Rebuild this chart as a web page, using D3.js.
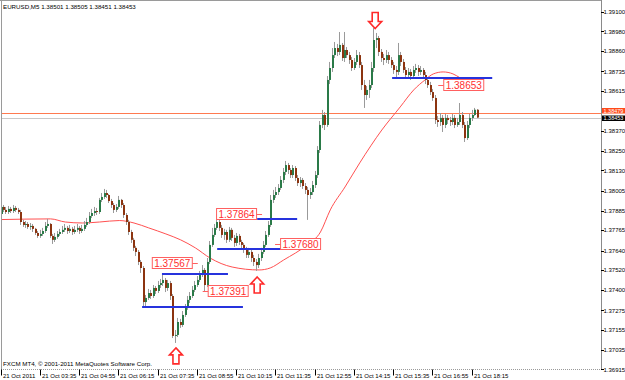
<!DOCTYPE html>
<html>
<head>
<meta charset="utf-8">
<script src="https://cdn.jsdelivr.net/npm/d3@7"></script>
<style>
  body { margin: 0; background: #fff; }
  svg { display: block; font-family: "Liberation Sans", Arial, sans-serif; }
</style>
</head>
<body>
<svg id="chart" width="625" height="380"></svg>
<script>
// EURUSD M5, 21 Oct 2011, bars from 02:15 to 18:25 (open of a bar = close of the previous one)
var firstOpen = 1.37864;
var closes = [
  1.37907, 1.37889, 1.37876, 1.37895, 1.37882, 1.37901, 1.37889, 1.37876, 1.37815, 1.37797,
  1.37803, 1.37785, 1.37791, 1.37773, 1.37748, 1.37730, 1.37742, 1.37760, 1.37791, 1.37803,
  1.37730, 1.37706, 1.37724, 1.37742, 1.37754, 1.37767, 1.37779, 1.37760, 1.37773, 1.37754,
  1.37767, 1.37779, 1.37760, 1.37773, 1.37797, 1.37815, 1.37852, 1.37870, 1.37882, 1.37876,
  1.37950, 1.37968, 1.37992, 1.37980, 1.37943, 1.37919, 1.37889, 1.37907, 1.37950, 1.37919,
  1.37858, 1.37815, 1.37754, 1.37706, 1.37657, 1.37632, 1.37571, 1.37534, 1.37326, 1.37351,
  1.37381, 1.37363, 1.37412, 1.37394, 1.37430, 1.37442, 1.37461, 1.37412, 1.37442, 1.37363,
  1.37119, 1.37125, 1.37204, 1.37186, 1.37247, 1.37290, 1.37339, 1.37363, 1.37400, 1.37430,
  1.37461, 1.37491, 1.37522, 1.37430, 1.37571, 1.37675, 1.37736, 1.37779, 1.37815, 1.37779,
  1.37736, 1.37754, 1.37706, 1.37767, 1.37718, 1.37687, 1.37730, 1.37693, 1.37675, 1.37644,
  1.37614, 1.37632, 1.37595, 1.37571, 1.37552, 1.37595, 1.37632, 1.37675, 1.37736, 1.37797,
  1.37950, 1.37980, 1.37998, 1.38023, 1.38072, 1.38121, 1.38163, 1.38133, 1.38102, 1.38145,
  1.38084, 1.38053, 1.38072, 1.38035, 1.38011, 1.37980, 1.37998, 1.38041, 1.38102, 1.38255,
  1.38408, 1.38469, 1.38408, 1.38683, 1.38756, 1.38835, 1.38878, 1.38854, 1.38897, 1.38817,
  1.38866, 1.38835, 1.38805, 1.38756, 1.38793, 1.38835, 1.38774, 1.38652, 1.38591, 1.38622,
  1.38652, 1.38756, 1.38927, 1.38939, 1.38854, 1.38817, 1.38805, 1.38835, 1.38805, 1.38774,
  1.38744, 1.38732, 1.38835, 1.38793, 1.38744, 1.38713, 1.38732, 1.38707, 1.38744, 1.38756,
  1.38732, 1.38744, 1.38713, 1.38683, 1.38652, 1.38609, 1.38573, 1.38438, 1.38426, 1.38451,
  1.38408, 1.38451, 1.38438, 1.38426, 1.38451, 1.38408, 1.38426, 1.38469, 1.38408, 1.38328,
  1.38408, 1.38451, 1.38469, 1.38501, 1.38453
];
var highs = [
  1.37937, 1.37919, 1.37907, 1.37913, 1.37907, 1.37919, 1.37913, 1.37901, 1.37889, 1.37828,
  1.37821, 1.37815, 1.37809, 1.37803, 1.37779, 1.37760, 1.37767, 1.37779, 1.37815, 1.37834,
  1.37809, 1.37742, 1.37748, 1.37760, 1.37773, 1.37791, 1.37803, 1.37791, 1.37797, 1.37785,
  1.37791, 1.37803, 1.37791, 1.37797, 1.37821, 1.37840, 1.37876, 1.37895, 1.37907, 1.37901,
  1.37962, 1.37992, 1.38017, 1.38011, 1.37986, 1.37956, 1.37931, 1.37925, 1.37974, 1.37956,
  1.37931, 1.37870, 1.37828, 1.37767, 1.37718, 1.37669, 1.37644, 1.37583, 1.37546, 1.37369,
  1.37406, 1.37400, 1.37430, 1.37424, 1.37455, 1.37467, 1.37497, 1.37473, 1.37461, 1.37455,
  1.37375, 1.37155, 1.37229, 1.37223, 1.37271, 1.37314, 1.37363, 1.37387, 1.37424, 1.37455,
  1.37485, 1.37516, 1.37552, 1.37534, 1.37595, 1.37699, 1.37779, 1.37803, 1.37864, 1.37828,
  1.37797, 1.37773, 1.37767, 1.37785, 1.37779, 1.37736, 1.37748, 1.37742, 1.37706, 1.37687,
  1.37663, 1.37657, 1.37644, 1.37614, 1.37589, 1.37620, 1.37657, 1.37699, 1.37760, 1.37821,
  1.37980, 1.38011, 1.38029, 1.38047, 1.38096, 1.38145, 1.38188, 1.38176, 1.38145, 1.38163,
  1.38157, 1.38102, 1.38090, 1.38084, 1.38053, 1.38029, 1.38023, 1.38066, 1.38127, 1.38279,
  1.38432, 1.38500, 1.38487, 1.38707, 1.38793, 1.38878, 1.38915, 1.38903, 1.38976, 1.38909,
  1.38976, 1.38884, 1.38854, 1.38823, 1.38817, 1.38866, 1.38854, 1.38793, 1.38683, 1.38646,
  1.38683, 1.38793, 1.39000, 1.38970, 1.38952, 1.38872, 1.38842, 1.38866, 1.38854, 1.38823,
  1.38793, 1.38768, 1.38909, 1.38854, 1.38811, 1.38762, 1.38756, 1.38750, 1.38768, 1.38781,
  1.38774, 1.38768, 1.38756, 1.38732, 1.38701, 1.38671, 1.38628, 1.38591, 1.38463, 1.38481,
  1.38469, 1.38475, 1.38469, 1.38457, 1.38475, 1.38469, 1.38451, 1.38542, 1.38487, 1.38426,
  1.38432, 1.38475, 1.38500, 1.38512, 1.38505
];
var lows = [
  1.37852, 1.37876, 1.37864, 1.37864, 1.37870, 1.37870, 1.37876, 1.37864, 1.37797, 1.37785,
  1.37779, 1.37773, 1.37767, 1.37754, 1.37736, 1.37718, 1.37718, 1.37730, 1.37748, 1.37779,
  1.37718, 1.37681, 1.37693, 1.37712, 1.37730, 1.37742, 1.37754, 1.37742, 1.37748, 1.37736,
  1.37742, 1.37754, 1.37742, 1.37748, 1.37760, 1.37785, 1.37803, 1.37840, 1.37852, 1.37858,
  1.37864, 1.37937, 1.37956, 1.37962, 1.37931, 1.37901, 1.37870, 1.37876, 1.37895, 1.37901,
  1.37840, 1.37797, 1.37736, 1.37687, 1.37638, 1.37607, 1.37552, 1.37504, 1.37302, 1.37296,
  1.37339, 1.37345, 1.37351, 1.37375, 1.37381, 1.37412, 1.37424, 1.37387, 1.37394, 1.37339,
  1.37106, 1.37076, 1.37112, 1.37168, 1.37174, 1.37235, 1.37278, 1.37320, 1.37351, 1.37387,
  1.37418, 1.37448, 1.37479, 1.37391, 1.37418, 1.37558, 1.37663, 1.37724, 1.37767, 1.37760,
  1.37718, 1.37706, 1.37687, 1.37693, 1.37699, 1.37663, 1.37669, 1.37675, 1.37651, 1.37626,
  1.37595, 1.37595, 1.37571, 1.37546, 1.37516, 1.37534, 1.37577, 1.37620, 1.37663, 1.37724,
  1.37785, 1.37931, 1.37962, 1.37980, 1.38011, 1.38053, 1.38102, 1.38108, 1.38084, 1.38084,
  1.38066, 1.38035, 1.38029, 1.38017, 1.37986, 1.37828, 1.37956, 1.37980, 1.38023, 1.38084,
  1.38237, 1.38389, 1.38377, 1.38396, 1.38658, 1.38732, 1.38817, 1.38829, 1.38835, 1.38799,
  1.38793, 1.38817, 1.38781, 1.38738, 1.38744, 1.38774, 1.38756, 1.38622, 1.38512, 1.38561,
  1.38573, 1.38634, 1.38732, 1.38878, 1.38829, 1.38793, 1.38774, 1.38787, 1.38781, 1.38756,
  1.38720, 1.38695, 1.38713, 1.38768, 1.38726, 1.38689, 1.38695, 1.38683, 1.38695, 1.38726,
  1.38707, 1.38713, 1.38695, 1.38658, 1.38634, 1.38591, 1.38555, 1.38414, 1.38396, 1.38402,
  1.38365, 1.38389, 1.38414, 1.38402, 1.38408, 1.38389, 1.38396, 1.38408, 1.38389, 1.38304,
  1.38316, 1.38389, 1.38432, 1.38463, 1.38451
];

// moving average (bar index, price)
var maBars   = [0, 20, 26, 33, 40, 48, 54, 60, 67, 73, 79, 85, 94, 105, 109.5, 115, 124.5, 130, 134, 140, 146, 155, 162.5, 168, 172.6, 176, 180, 184, 187, 191, 194];
var maValues = [1.37830, 1.37834, 1.37815, 1.37809, 1.37815, 1.37824, 1.37809, 1.37779, 1.37742, 1.37706, 1.37657, 1.37595, 1.37540, 1.37522, 1.37534, 1.37583, 1.37675, 1.37754, 1.37889, 1.38029, 1.38176, 1.38377, 1.38518, 1.38622, 1.38683, 1.38720, 1.38732, 1.38720, 1.38695, 1.38658, 1.38634];

// horizontal trend lines (from bar, to bar, price)
var lineFrom  = [65.4, 57.3, 87.9, 104.2, 159.2];
var lineTo    = [92.3, 98.4, 120.5, 120.5, 200];
var linePrice = [1.37497, 1.37298, 1.37648, 1.37833, 1.38697];

// price labels (anchor bar, price, side of the box)
var tagBars   = [80, 82, 106.2, 111.5, 178];
var tagPrices = [1.37567, 1.37391, 1.37864, 1.37680, 1.38653];
var tagSides  = ["left", "right", "left", "right", "right"];

// arrows (bar, tip price, direction)
var arrowBars   = [152.3, 71.1, 104.2];
var arrowPrices = [1.38997, 1.37046, 1.37479];
var arrowDirs   = ["down", "up", "up"];

var timeBars   = [0, 16, 32, 48, 64, 80, 96, 112, 128, 144, 160, 176, 192];
var timeLabels = ["21 Oct 2011", "21 Oct 03:35", "21 Oct 04:55", "21 Oct 06:15", "21 Oct 07:35",
                  "21 Oct 08:55", "21 Oct 10:15", "21 Oct 11:35", "21 Oct 12:55", "21 Oct 14:15",
                  "21 Oct 15:35", "21 Oct 16:55", "21 Oct 18:15"];
var priceTicks = [1.39100, 1.38980, 1.38860, 1.38735, 1.38615, 1.38370, 1.38250, 1.38130, 1.38005,
                  1.37885, 1.37765, 1.37640, 1.37520, 1.37400, 1.37275, 1.37155, 1.37035, 1.36915];
var bidPrice = 1.38453;
var askPrice = 1.38479;
var header = "EURUSD,M5  1.38501 1.38505 1.38451 1.38453";
var copyright = "FXCM MT4, \u00a9 2001-2011 MetaQuotes Software Corp.";

var W = 625, H = 380, right = 601, bottom = 369.5;
var svg = d3.select("#chart");

var x = d3.scaleLinear().domain([0, 194]).range([1.5, 477.5]);
var y = d3.scaleLinear().domain([1.36915, 1.39100]).range([369.3, 11.7]);

var bars = closes.map(function(c, i) {
  return {i: i, o: i ? closes[i - 1] : firstOpen, h: highs[i], l: lows[i], c: c};
});

var plot = svg.append("g");
plot.append("clipPath").attr("id", "clip").append("rect")
  .attr("x", 1).attr("y", 1).attr("width", right - 1).attr("height", bottom - 1);
var inner = plot.append("g").attr("clip-path", "url(#clip)");

// frame
svg.append("line").attr("x1", 1.5).attr("x2", 1.5).attr("y1", 0).attr("y2", bottom)
  .attr("stroke", "#9a9a9a");
svg.append("line").attr("x1", 0).attr("x2", right).attr("y1", 0.5).attr("y2", 0.5)
  .attr("stroke", "#9a9a9a");
svg.append("line").attr("x1", right + 0.5).attr("x2", right + 0.5).attr("y1", 0).attr("y2", bottom)
  .attr("stroke", "#8a8a8a");
svg.append("line").attr("x1", 1).attr("x2", right).attr("y1", bottom).attr("y2", bottom)
  .attr("stroke", "#9a9a9a").attr("stroke-dasharray", "1,1");

// bid / ask lines
inner.append("line").attr("x1", 1).attr("x2", right)
  .attr("y1", Math.round(y(bidPrice)) + 0.5).attr("y2", Math.round(y(bidPrice)) + 0.5)
  .attr("stroke", "#c8c8c8");
inner.append("line").attr("x1", 1).attr("x2", right)
  .attr("y1", Math.round(y(askPrice)) + 0.5).attr("y2", Math.round(y(askPrice)) + 0.5)
  .attr("stroke", "#ff7a50");

// moving average
var maLine = d3.line()
  .x(function(d, i) { return x(maBars[i]); })
  .y(function(d) { return y(d); })
  .curve(d3.curveMonotoneX);
inner.append("path").datum(maValues)
  .attr("d", maLine)
  .attr("fill", "none")
  .attr("stroke", "#ff5050")
  .attr("stroke-width", 1);

// candles
var candle = inner.selectAll(".candle").data(bars).enter().append("g").attr("class", "candle");
candle.append("line")
  .attr("x1", function(d) { return Math.round(x(d.i)) - 0.5; })
  .attr("x2", function(d) { return Math.round(x(d.i)) - 0.5; })
  .attr("y1", function(d) { return y(d.h); })
  .attr("y2", function(d) { return y(d.l); })
  .attr("stroke", "#9a9a9a");
candle.append("rect")
  .attr("x", function(d) { return Math.round(x(d.i)) - 1; })
  .attr("width", 2)
  .attr("y", function(d) { return y(Math.max(d.o, d.c)); })
  .attr("height", function(d) { return Math.max(1, Math.abs(y(d.o) - y(d.c))); })
  .attr("fill", function(d) { return d.c >= d.o ? "#2a7a48" : "#8c3410"; });

// trend lines
inner.selectAll(".tline").data(linePrice).enter().append("line")
  .attr("x1", function(d, i) { return x(lineFrom[i]); })
  .attr("x2", function(d, i) { return x(lineTo[i]); })
  .attr("y1", function(d) { return Math.round(y(d)); })
  .attr("y2", function(d) { return Math.round(y(d)); })
  .attr("stroke", "#2633dd")
  .attr("stroke-width", 2);

// price tags
var tag = inner.selectAll(".tag").data(tagPrices).enter().append("g")
  .attr("transform", function(d, i) {
    return "translate(" + x(tagBars[i]) + "," + Math.round(y(d)) + ")";
  });
tag.append("line")
  .attr("x1", 0)
  .attr("x2", function(d, i) { return tagSides[i] == "left" ? -6 : 6; })
  .attr("y1", 0.5).attr("y2", 0.5)
  .attr("stroke", "#ff6060");
tag.append("rect")
  .attr("x", function(d, i) { return tagSides[i] == "left" ? -45.5 : 5.5; })
  .attr("y", -5.5).attr("width", 40).attr("height", 11)
  .attr("fill", "#fff").attr("stroke", "#ff6060");
tag.append("text")
  .attr("x", function(d, i) { return tagSides[i] == "left" ? -25.5 : 25.5; })
  .attr("y", 3.5)
  .attr("text-anchor", "middle")
  .attr("font-size", 10)
  .attr("fill", "#ff3030")
  .text(function(d) { return d.toFixed(5); });

// arrows
var upArrow = "M0,0 L6.5,7 L3,7 L3,16 L-3,16 L-3,7 L-6.5,7 Z";
inner.selectAll(".arrow").data(arrowPrices).enter().append("path")
  .attr("d", upArrow)
  .attr("transform", function(d, i) {
    var t = "translate(" + x(arrowBars[i]) + "," + y(d) + ")";
    return arrowDirs[i] == "down" ? t + " scale(1,-1)" : t;
  })
  .attr("fill", "#fff")
  .attr("stroke", "#ff2a2a")
  .attr("stroke-width", 1.6);

// price axis
var pa = svg.append("g").attr("font-size", 6).attr("fill", "#000");
pa.selectAll(".pt").data(priceTicks).enter().append("line")
  .attr("x1", right).attr("x2", right + 3)
  .attr("y1", function(d) { return Math.round(y(d)) + 0.5; })
  .attr("y2", function(d) { return Math.round(y(d)) + 0.5; })
  .attr("stroke", "#000");
pa.selectAll(".pl").data(priceTicks).enter().append("text")
  .attr("x", right + 2.5)
  .attr("y", function(d) { return y(d) + 2.2; })
  .text(function(d) { return d.toFixed(5); });

// ask / bid boxes on the axis
[[askPrice, "#ff4a1a", -5], [bidPrice, "#000", -2.5]].forEach(function(p) {
  var yy = Math.round(y(p[0]));
  pa.append("rect").attr("x", right + 1).attr("y", yy + p[2]).attr("width", W - right - 1).attr("height", 5.5)
    .attr("fill", p[1]);
  pa.append("text").attr("x", right + 2.5).attr("y", yy + p[2] + 4.8).attr("font-size", 5.5)
    .attr("fill", "#fff").text(p[0].toFixed(5));
});

// time axis
var ta = svg.append("g").attr("font-size", 6).attr("fill", "#000");
ta.selectAll(".tt").data(timeBars).enter().append("line")
  .attr("x1", function(d) { return Math.round(x(d)) - 0.5; })
  .attr("x2", function(d) { return Math.round(x(d)) - 0.5; })
  .attr("y1", bottom).attr("y2", bottom + 6)
  .attr("stroke", "#000");
ta.selectAll(".tl").data(timeBars).enter().append("text")
  .attr("x", function(d) { return Math.round(x(d)) + 1; })
  .attr("y", 377.5)
  .text(function(d, i) { return timeLabels[i]; });

// header and copyright
svg.append("text").attr("x", 3).attr("y", 8.5).attr("font-size", 6.2).attr("fill", "#000").text(header);
svg.append("text").attr("x", 3).attr("y", 366).attr("font-size", 6.2).attr("fill", "#000").text(copyright);
</script>
</body>
</html>
